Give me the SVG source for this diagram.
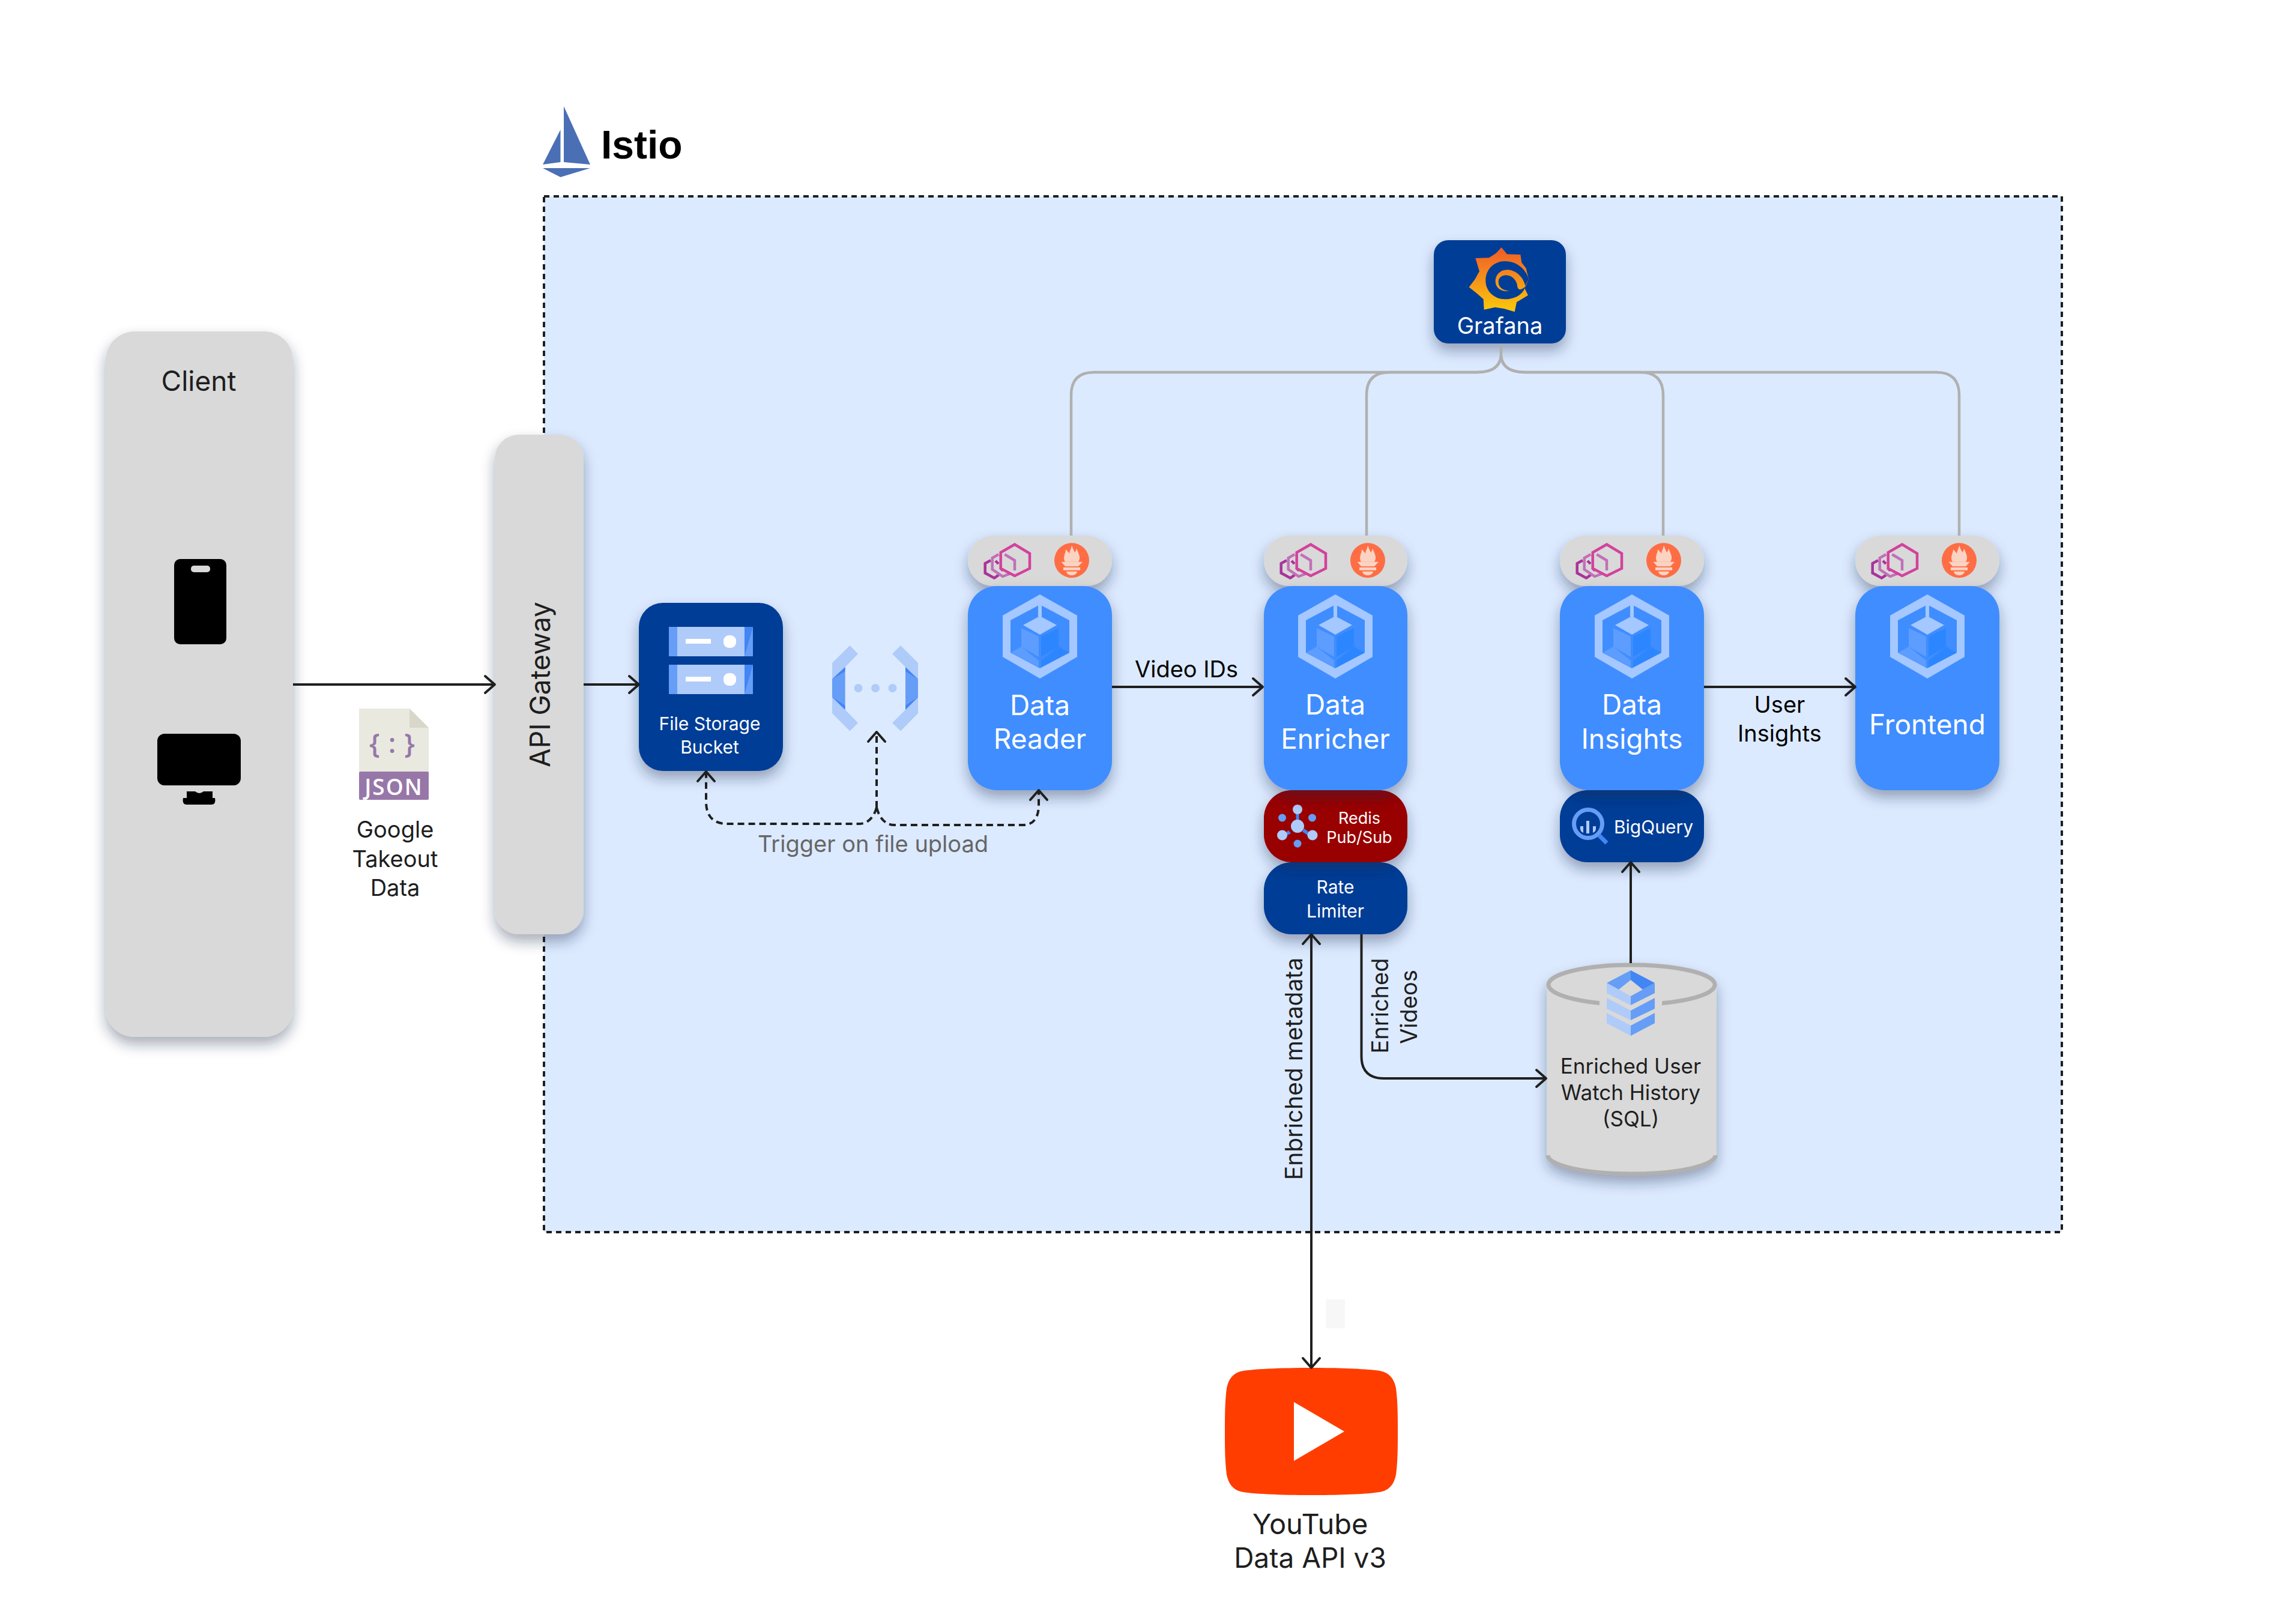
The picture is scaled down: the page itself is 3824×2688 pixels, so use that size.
<svg xmlns="http://www.w3.org/2000/svg" xmlns:xlink="http://www.w3.org/1999/xlink" width="3824" height="2688" viewBox="0 0 3824 2688">
<style>
text{font-family:"Inter","Liberation Sans",sans-serif;fill:#1e1e1e;text-anchor:middle}
.w{fill:#fff}
.k{fill:#000}
.gray{fill:#d9d9d9}
.blue{fill:#418dff}
.navy{fill:#033e96}
.sh{filter:url(#shadow)}
.conn{fill:none;stroke:#1f1f1f;stroke-width:4}
.dash{stroke-dasharray:11 7}
.mon{fill:none;stroke:#b0b0b0;stroke-width:4.5}
.f46{font-size:46px}.f38{font-size:38px}.f30{font-size:30px}.f27{font-size:27px}
</style>
<defs>
<filter id="shadow" x="-25%" y="-30%" width="150%" height="180%">
<feDropShadow dx="0" dy="12" stdDeviation="11" flood-color="#1a2a45" flood-opacity="0.38"/>
</filter>
<marker id="arrow" markerUnits="userSpaceOnUse" markerWidth="24" markerHeight="36" viewBox="-20 -18 24 36" refX="0" refY="0" orient="auto-start-reverse" overflow="visible">
<path d="M-16,-14 L0,0 L-16,14" fill="none" stroke="#1f1f1f" stroke-width="4" stroke-linecap="round" stroke-linejoin="round"/>
</marker>
<linearGradient id="graf" gradientUnits="userSpaceOnUse" x1="0" y1="96" x2="0" y2="418">
<stop offset="0" stop-color="#f05a28"/><stop offset="1" stop-color="#fbca0a"/>
</linearGradient>
<g id="sidecars">
<g fill="none" stroke-width="4.5" stroke-linejoin="miter">
<path d="M38,933.3 L28.7,938.3 V954.3 L44,962.7 L51.3,957.7" stroke="#a8339a"/>
<path d="M51.3,923.3 L40.7,929.3 V948.3 L58,960 L71.3,955" stroke="#c170b8"/>
<path d="M46,934 L51,939 M54,946 L58.500,950.500" stroke="#a8339a"/>
<path d="M61.3,923.3 L78,933.3 V950" stroke="#c170b8"/>
<path d="M78,906.7 L103,921.700 V946.700 L78,959 L54.700,946.700 V920 Z" stroke="#d2429b"/>
</g>
<circle cx="173" cy="933.3" r="29" fill="#ff6d45"/>
<g fill="#fbd3c2">
<path d="M162,935.700 C157,928 163,922 163,915 C166,918 168,920 169,922 C170,916 173,912 173,908 C175,914 177,917 178,920 C180,918 181,915 181,913 C184,922 189,928 184,935.700 Z"/>
<path d="M155.500,935.700 H191 L184,943.300 H162 Z"/>
<rect x="159" y="945" width="28" height="4.700"/>
<path d="M164,951.700 H182 A9,6.500 0 0 1 164,951.700 Z"/>
</g>
</g>
<g id="wasm">
<path fill-rule="evenodd" fill="#a4c8ff" d="M120,990 L182,1025 V1094 L120,1130 L58,1094 V1025 Z M120,1007 L71,1033 V1087 L120,1113 L169,1087 V1033 Z"/>
<rect x="117" y="1007" width="6" height="20" fill="#a4c8ff"/>
<path d="M120,1026 L148,1041 L120,1057 L92,1041 Z" fill="#a4c8ff"/>
<path d="M89,1046 L118,1060 V1094 L89,1077 Z M71,1087 L89,1077 L118,1100 V1111 Z" fill="#5c9dff"/>
<path d="M151,1046 L122,1060 V1094 L151,1077 Z M169,1087 L151,1077 L122,1100 V1111 Z" fill="#2c86ff"/>
</g>
</defs>

<rect width="3824" height="2688" fill="#fff"/>

<g id="istio-logo">
<path d="M939,177 L983,274 L939,270 Z M933.5,216 V270 L904,274 Z M904,280 H983 L933.5,295 Z" fill="#4a6fb5"/>
<text x="1001" y="264" font-size="66" font-weight="700" class="k" style="font-family:'Liberation Sans',sans-serif;text-anchor:start">Istio</text>
</g>
<rect id="istio-mesh" x="906" y="327" width="2528" height="1725" fill="#dceaff" stroke="#1f1f1f" stroke-width="4" stroke-dasharray="9 7"/>

<g id="client">
<rect x="176" y="552" width="312" height="1175" rx="48" class="gray sh"/>
<text x="331" y="651" font-size="46">Client</text>
<rect x="290" y="931" width="87" height="142" rx="10" fill="#000"/>
<rect x="318" y="942" width="32" height="11" rx="5" fill="#d9d9d9"/>
<rect x="262" y="1222" width="139" height="86" rx="12" fill="#000"/>
<path d="M311,1318 H325 Q332,1324 339,1318 H354 V1329 H358 Q360,1340 352,1340 H311 Q303,1340 305,1329 H311 Z" fill="#000"/>
</g>

<g id="json-file">
<path d="M598,1180 H682 L714,1212 V1286 H598 Z" fill="#e9e9e0"/>
<path d="M682,1180 L714,1212 H682 Z" fill="#d9d7ca"/>
<rect x="598" y="1285" width="116" height="47" rx="2" fill="#9777a8"/>
<text x="656" y="1324" font-size="37" font-weight="600" class="w" style="font-family:'Open Sans',sans-serif;letter-spacing:2px">JSON</text>
<text x="660" y="1254" font-size="46" font-weight="600" style="font-family:'Open Sans',sans-serif;fill:#9777a8;letter-spacing:14px">{:}</text>
<text x="658" y="1395" class="f38">Google</text>
<text x="658" y="1444" class="f38">Takeout</text>
<text x="658" y="1492" class="f38">Data</text>
</g>

<g id="api-gateway">
<rect x="824" y="724" width="148" height="832" rx="40" class="gray sh"/>
<text transform="translate(916,1140) rotate(-90)" font-size="46">API Gateway</text>
</g>

<g id="file-storage-bucket">
<rect x="1064" y="1004" width="240" height="280" rx="40" class="navy sh"/>
<g id="bucket-row">
<rect x="1114" y="1044" width="140" height="49" fill="#aecbfa"/>
<rect x="1114" y="1044" width="14" height="49" fill="#669df6"/>
<path d="M1240,1044 H1254 V1093 H1240 Z" fill="#669df6"/>
<path d="M1240,1044 H1254 L1240,1093 Z" fill="#4285f4"/>
<rect x="1142" y="1064" width="42" height="8" fill="#fff"/>
<rect x="1205" y="1058" width="21" height="21" rx="9" fill="#fff"/>
</g>
<use xlink:href="#bucket-row" href="#bucket-row" y="63"/>
<text x="1182" y="1216" class="w f30">File Storage</text>
<text x="1182" y="1255" class="w f30">Bucket</text>
</g>

<g id="cloud-function">
<path d="M1415.5,1075 L1429,1089 L1407.5,1111 V1182 L1429,1204 L1415.5,1217.5 L1386,1188 V1104 Z" fill="#aecbfa"/>
<path d="M1407.5,1111 L1386,1131 V1161 L1407.5,1182 Z" fill="#669df6"/>
<path d="M1407.5,1111 L1386,1131 L1407.5,1118 Z M1407.5,1182 L1386,1161 L1407.5,1175 Z" fill="#4285f4"/>
<path d="M1500,1075 L1486,1089 L1508,1111 V1182 L1486,1204 L1500,1217.5 L1529,1188 V1104 Z" fill="#aecbfa"/>
<path d="M1508,1111 L1529,1131 V1161 L1508,1182 Z" fill="#669df6"/>
<path d="M1508,1111 L1529,1131 L1508,1118 Z M1508,1182 L1529,1161 L1508,1175 Z" fill="#4285f4"/>
<circle cx="1429.5" cy="1146" r="7" fill="#aecbfa"/><circle cx="1458" cy="1146" r="7" fill="#aecbfa"/><circle cx="1486.5" cy="1146" r="7" fill="#aecbfa"/>
</g>

<g id="data-reader">
<rect x="1612" y="892" width="240" height="84" rx="42" class="gray sh"/>
<use xlink:href="#sidecars" href="#sidecars" x="1612"/>
<rect x="1612" y="976" width="240" height="340" rx="48" class="blue sh"/>
<use xlink:href="#wasm" href="#wasm" x="1612"/>
<text x="1732" y="1191" class="w f46">Data</text>
<text x="1732" y="1247" class="w f46">Reader</text>
</g>

<g id="rate-limiter">
<rect x="2105" y="1436" width="239" height="120" rx="46" class="navy sh"/>
<text x="2224" y="1488" class="w f30">Rate</text>
<text x="2224" y="1528" class="w f30">Limiter</text>
</g>
<g id="redis-pubsub">
<rect x="2105" y="1316" width="239" height="120" rx="46" fill="#990000" class="sh"/>
<g fill="#4285f4">
<rect x="2158.5" y="1355" width="5" height="12"/>
<path d="M2146,1383 L2150,1388 L2140,1393 L2138,1389 Z M2172,1380 L2182,1387 L2179,1392 L2169,1385 Z"/>
</g>
<circle cx="2161" cy="1376" r="11" fill="#aecbfa"/>
<circle cx="2161" cy="1348" r="8" fill="#aecbfa"/>
<circle cx="2135.5" cy="1362" r="6.5" fill="#669df6"/>
<circle cx="2185.5" cy="1362" r="6.5" fill="#669df6"/>
<circle cx="2135.5" cy="1391" r="8.5" fill="#aecbfa"/>
<circle cx="2186" cy="1391" r="8.5" fill="#aecbfa"/>
<circle cx="2161" cy="1405" r="6.5" fill="#669df6"/>
<text x="2264" y="1372" class="w f27">Redis</text>
<text x="2264" y="1404" class="w f27">Pub/Sub</text>
</g>
<g id="data-enricher">
<rect x="2105" y="892" width="239" height="84" rx="42" class="gray sh"/>
<use xlink:href="#sidecars" href="#sidecars" x="2105"/>
<rect x="2105" y="976" width="239" height="340" rx="48" class="blue sh"/>
<use xlink:href="#wasm" href="#wasm" x="2104"/>
<text x="2224" y="1190" class="w f46">Data</text>
<text x="2224" y="1247" class="w f46">Enricher</text>
</g>

<g id="bigquery">
<rect x="2598" y="1316" width="240" height="120" rx="46" class="navy sh"/>
<circle cx="2645" cy="1372" r="23.5" fill="none" stroke="#669df6" stroke-width="7"/>
<path d="M2663,1391 L2676,1404" stroke="#4285f4" stroke-width="7" fill="none"/>
<path d="M2632,1376 H2637 V1387 Q2632,1385 2632,1380 Z M2642,1367 H2647 V1388 H2642 Z M2653,1376 H2658 V1380 Q2658,1385 2653,1387 Z" fill="#aecbfa"/>
<text x="2754" y="1388" class="w f30">BigQuery</text>
</g>
<g id="data-insights">
<rect x="2598" y="892" width="240" height="84" rx="42" class="gray sh"/>
<use xlink:href="#sidecars" href="#sidecars" x="2598"/>
<rect x="2598" y="976" width="240" height="340" rx="48" class="blue sh"/>
<use xlink:href="#wasm" href="#wasm" x="2598"/>
<text x="2718" y="1190" class="w f46">Data</text>
<text x="2718" y="1247" class="w f46">Insights</text>
</g>

<g id="frontend">
<rect x="3090" y="892" width="240" height="84" rx="42" class="gray sh"/>
<use xlink:href="#sidecars" href="#sidecars" x="3090"/>
<rect x="3090" y="976" width="240" height="340" rx="48" class="blue sh"/>
<use xlink:href="#wasm" href="#wasm" x="3090"/>
<text x="3210" y="1223" class="w f46">Frontend</text>
</g>

<g id="grafana">
<rect x="2388" y="400" width="220" height="172" rx="24" class="navy sh"/>
<g transform="translate(2300,380) scale(0.3333)">
<path fill="url(#graf)" d="M602,96 L630,130 L697,132 L703,172 L725,200 L738,255 L718,300 L735,335 L678,370 L668,418 L615,402 L570,395 L515,407 L512,355 L478,325 L440,295 L470,255 L492,215 L472,150 L540,148 L575,125 Z"/>
<path fill="#033e96" d="M738,255 C725,205 680,165 620,165 C565,165 523,205 523,262 C523,315 565,355 620,355 C675,355 718,325 722,285 Z"/>
<path fill="url(#graf)" d="M722,292 C712,240 670,208 630,208 C595,208 572,235 572,265 C572,300 605,322 642,312 C615,314 587,300 587,268 C587,248 605,235 625,235 C655,235 680,262 682,292 C684,310 700,312 722,292 Z"/>
</g>
<text x="2498" y="556" class="w f38">Grafana</text>
</g>

<g id="sql-database">
<path d="M2576,1640 V1923 A141.5,35 0 0 0 2859,1923 V1640 A141.5,36 0 0 0 2576,1640 Z" class="gray sh"/>
<ellipse cx="2717.5" cy="1640" rx="138.5" ry="33" fill="none" stroke="#b0b0b0" stroke-width="7"/>
<rect x="2664" y="1660" width="104" height="30" fill="#d9d9d9"/>
<path d="M2578,1924 A139.5,31 0 0 0 2857,1924" fill="none" stroke="#b0b0b0" stroke-width="7"/>
<path d="M2676,1637 L2716,1616 V1632 L2696,1648 Z" fill="#669df6"/>
<path d="M2716,1616 L2756,1637 L2736,1648 L2716,1632 Z" fill="#4285f4"/>
<path d="M2676,1637 L2696,1648 L2716,1659 V1674 L2676,1654 Z" fill="#aecbfa"/>
<path d="M2756,1637 V1654 L2716,1674 V1659 L2736,1648 Z" fill="#669df6"/>
<path d="M2676,1662 L2716,1683 V1699 L2676,1680 Z M2676,1687 L2716,1708 V1725 L2676,1704 Z" fill="#aecbfa"/>
<path d="M2756,1662 L2716,1683 V1699 L2756,1680 Z M2756,1687 L2716,1708 V1725 L2756,1704 Z" fill="#669df6"/>
<text x="2716" y="1788" font-size="35">Enriched User</text>
<text x="2716" y="1832" font-size="35">Watch History</text>
<text x="2716" y="1876" font-size="35">(SQL)</text>
</g>

<g id="youtube">
<path fill="#ff3d00" d="M2184,2278 C2235,2278 2285,2280 2302,2284 C2316,2288 2322,2298 2325,2312 C2328,2335 2328,2360 2328,2384 C2328,2408 2328,2433 2325,2456 C2322,2470 2316,2480 2302,2484 C2285,2488 2235,2490 2184,2490 C2133,2490 2083,2488 2066,2484 C2052,2480 2046,2470 2043,2456 C2040,2433 2040,2408 2040,2384 C2040,2360 2040,2335 2043,2312 C2046,2298 2052,2288 2066,2284 C2083,2280 2133,2278 2184,2278 Z"/>
<path fill="#fff" d="M2155,2335 L2239,2384 L2155,2433 Z"/>
<text x="2182" y="2555" font-size="47">YouTube</text>
<text x="2182" y="2611" font-size="46">Data API v3</text>
</g>
<rect id="smudge" x="2208" y="2164" width="32" height="48" fill="#f7f7f7"/>

<g id="connectors">
<path class="mon" d="M2500,572 V593 Q2497,620 2460,620 H1822 Q1784,620 1784,658 V892"/>
<path class="mon" d="M2500,593 Q2497,620 2460,620 H2314 Q2276,620 2276,658 V892"/>
<path class="mon" d="M2500,593 Q2503,620 2540,620 H2732 Q2770,620 2770,658 V892"/>
<path class="mon" d="M2500,593 Q2503,620 2540,620 H3225 Q3263,620 3263,658 V892"/>
<path class="conn" d="M488,1140 H824" marker-end="url(#arrow)"/>
<path class="conn" d="M972,1140 H1064" marker-end="url(#arrow)"/>
<path class="conn" d="M1852,1144 H2103" marker-end="url(#arrow)"/>
<path class="conn" d="M2838,1144 H3090" marker-end="url(#arrow)"/>
<path class="conn" d="M2716,1604 V1436" marker-end="url(#arrow)"/>
<path class="conn" d="M2184,2278 V1556" marker-start="url(#arrow)" marker-end="url(#arrow)"/>
<path class="conn" d="M2267.5,1556 V1759 Q2267.5,1796 2305,1796 H2575" marker-end="url(#arrow)"/>
<path class="conn dash" d="M1460,1345 V1219" marker-end="url(#arrow)"/>
<path class="conn dash" d="M1460,1345 Q1452,1372 1430,1372 H1212 Q1176,1372 1176,1335 V1285" marker-end="url(#arrow)"/>
<path class="conn dash" d="M1460,1345 Q1468,1374 1490,1374 H1703 Q1730,1374 1730,1340 V1316" marker-end="url(#arrow)"/>
</g>

<g id="connector-labels">
<text x="1976" y="1128" class="f38 k">Video IDs</text>
<text x="2964" y="1187" class="f38 k">User</text>
<text x="2964" y="1235" class="f38 k">Insights</text>
<text x="1454" y="1419" class="f38" style="fill:#666">Trigger on file upload</text>
<text transform="translate(2169,1780) rotate(-90)" font-size="39">Enbriched metadata</text>
<text transform="translate(2312,1675) rotate(-90)" class="f38">Enriched</text>
<text transform="translate(2360,1677) rotate(-90)" class="f38">Videos</text>
</g>
</svg>
